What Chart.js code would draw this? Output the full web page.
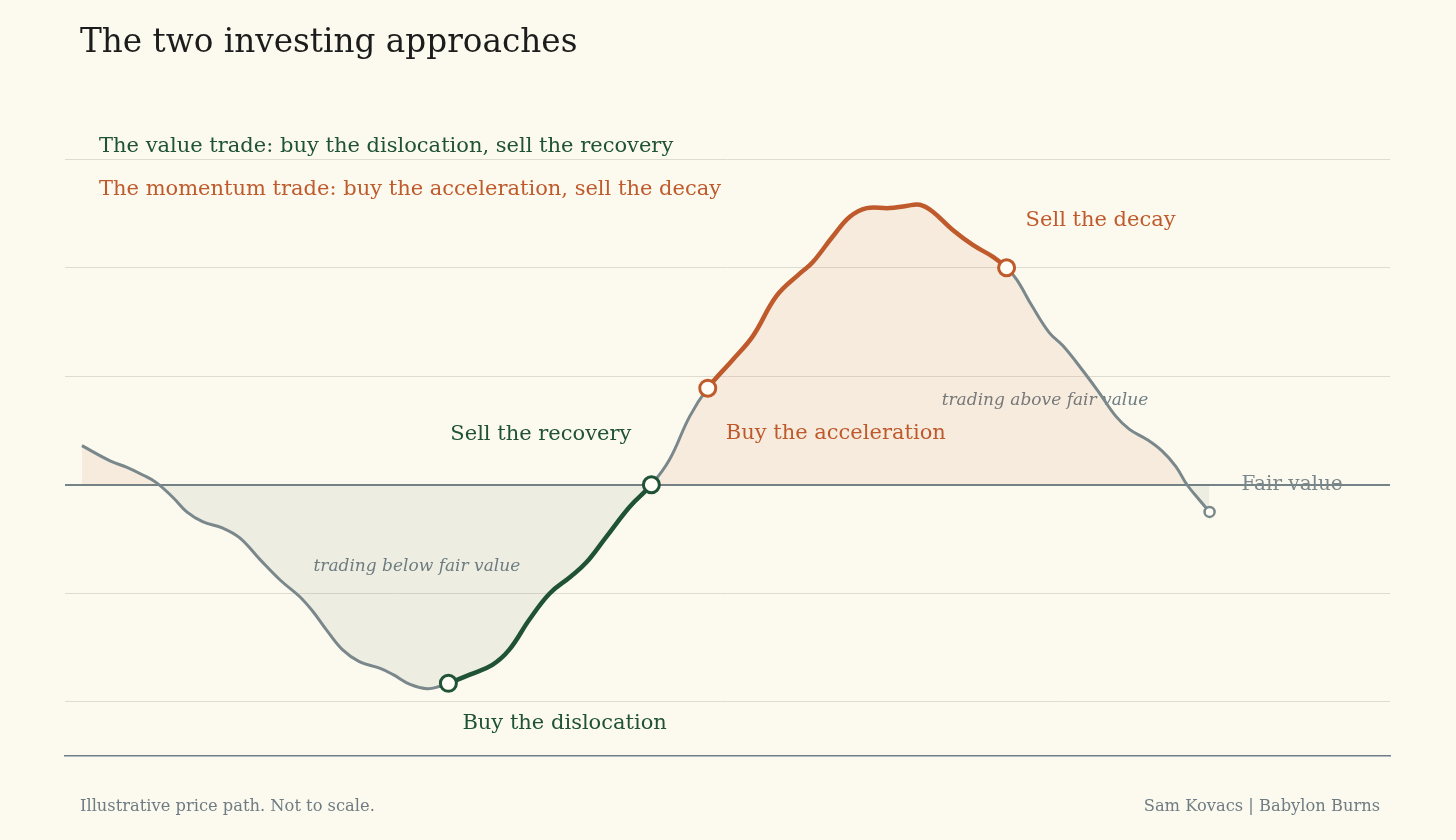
<!DOCTYPE html>
<html>
<head>
<meta charset="utf-8">
<script src="https://cdn.jsdelivr.net/npm/chart.js@4.4.1/dist/chart.umd.min.js"></script>
<style>
  html, body { margin: 0; padding: 0; background: #FCFAEE; }
  #wrap { width: 1456px; height: 840px; position: relative; }
</style>
</head>
<body>
<div id="wrap"><canvas id="pathChart"></canvas></div>
<script>
// price path, fair value = 0
const pathX = [0, 2.5, 4, 5.4, 6.6, 8.1, 9.3, 10.7, 12.5, 14, 15.8, 17.6, 19.3, 20.5, 21.7, 23.1, 24.6, 26.4, 27.6, 29.1,
  30.6, 31.7, 32.5, 34.4, 36.4, 37.9, 39.7, 41.5, 43.3, 44.7, 46.5, 48.6, 50.5, 52.1, 53.9, 55.5, 57.7, 59.5, 61.6, 63.7,
  64.8, 66.6, 68.1, 69.6, 71.6, 73.1, 74.3, 75.4, 77.2, 79, 80.8, 82, 82.9, 84.3, 85.8, 87, 88.7, 90.2, 91.7, 92.9,
  94.4, 95.8, 97, 98, 99.1, 100];
const pathY = [0.36, 0.22, 0.16, 0.09, 0.02, -0.12, -0.25, -0.34, -0.40, -0.49, -0.69, -0.88, -1.03, -1.17, -1.34, -1.52, -1.63, -1.69, -1.75, -1.84,
  -1.88, -1.86, -1.83, -1.75, -1.66, -1.52, -1.24, -1.0, -0.85, -0.72, -0.48, -0.2, 0, 0.23, 0.63, 0.89, 1.15, 1.37, 1.74, 1.95,
  2.05, 2.29, 2.47, 2.55, 2.55, 2.57, 2.58, 2.52, 2.35, 2.21, 2.1, 2.0, 1.89, 1.64, 1.4, 1.28, 1.06, 0.85, 0.63, 0.51,
  0.42, 0.31, 0.17, 0, -0.14, -0.25];

const valueTrade = [32.5, 50.5];     // buy the dislocation -> sell the recovery
const momentumTrade = [55.5, 82];    // buy the acceleration -> sell the decay
const pathEnd = 100;
const gridTicks = [-2, -1, 0, 1, 2, 3];

const GREEN = '#1F5236';
const ORANGE = '#BF5A2C';
const GRAY = '#7A878B';
const SERIF = '"DejaVu Serif", serif';

const inside = (a, b, r) => a >= r[0] && b <= r[1];
const yAt = x => pathY[pathX.indexOf(x)];
const points = pathX.map((x, i) => ({ x: x, y: pathY[i] }));

// labels anchored to the path's marked points, offsets in px
const notes = [
  { text: 'Buy the dislocation', x: valueTrade[0], y: yAt(valueTrade[0]), dx: 14, dy: 40, align: 'left', color: GREEN, size: 21 },
  { text: 'Sell the recovery', x: valueTrade[1], y: yAt(valueTrade[1]), dx: -20, dy: -50, align: 'right', color: GREEN, size: 21 },
  { text: 'Buy the acceleration', x: momentumTrade[0], y: yAt(momentumTrade[0]), dx: 18, dy: 45, align: 'left', color: ORANGE, size: 21 },
  { text: 'Sell the decay', x: momentumTrade[1], y: yAt(momentumTrade[1]), dx: 19, dy: -47, align: 'left', color: ORANGE, size: 21 },
  { text: 'Fair value', x: pathEnd, y: 0, dx: 32, dy: 0, align: 'left', color: GRAY, size: 20 }
];
const zoneNotes = [
  { text: 'trading below fair value', x: 29.7, y: -0.75 },
  { text: 'trading above fair value', x: 85.4, y: 0.78 }
];

const textPlugin = {
  id: 'texts',
  beforeDatasetsDraw(chart) {
    const { ctx, scales: { x, y } } = chart;
    ctx.save();
    ctx.textBaseline = 'middle';
    ctx.font = 'italic 17px ' + SERIF;
    ctx.fillStyle = '#6F7C82';
    ctx.textAlign = 'center';
    zoneNotes.forEach(n => ctx.fillText(n.text, x.getPixelForValue(n.x), y.getPixelForValue(n.y)));
    notes.forEach(n => {
      ctx.font = n.size + 'px ' + SERIF;
      ctx.fillStyle = n.color;
      ctx.textAlign = n.align;
      ctx.fillText(n.text, x.getPixelForValue(n.x) + n.dx, y.getPixelForValue(n.y) + n.dy);
    });
    ctx.restore();
  },
  afterDraw(chart) {
    const { ctx } = chart;
    ctx.save();
    ctx.textBaseline = 'middle';
    ctx.textAlign = 'left';
    ctx.fillStyle = '#1C1C1C';
    ctx.font = '32.7px ' + SERIF;
    ctx.fillText('The two investing approaches', 80, 44);
    ctx.font = '21px ' + SERIF;
    ctx.fillStyle = GREEN;
    ctx.fillText('The value trade: buy the dislocation, sell the recovery', 99, 147);
    ctx.fillStyle = ORANGE;
    ctx.fillText('The momentum trade: buy the acceleration, sell the decay', 99, 190);
    ctx.fillStyle = '#6F7C84';
    ctx.font = '16.3px ' + SERIF;
    ctx.fillText('Illustrative price path. Not to scale.', 80, 807);
    ctx.textAlign = 'right';
    ctx.fillText('Sam Kovacs | Babylon Burns', 1380, 807);
    ctx.restore();
  }
};

const markers = [valueTrade[0], valueTrade[1], momentumTrade[0], momentumTrade[1], pathEnd];
const markerColor = v => (v === pathEnd ? GRAY : inside(v, v, valueTrade) ? GREEN : ORANGE);

new Chart(document.getElementById('pathChart'), {
  type: 'line',
  data: {
    datasets: [{
      // price path with the two trades highlighted
      data: points,
      borderColor: GRAY,
      borderWidth: 3,
      tension: 0.4,
      fill: false,
      segment: {
        borderColor: c => inside(c.p0.parsed.x, c.p1.parsed.x, valueTrade) ? GREEN
          : inside(c.p0.parsed.x, c.p1.parsed.x, momentumTrade) ? ORANGE : GRAY,
        borderWidth: c => (inside(c.p0.parsed.x, c.p1.parsed.x, valueTrade) ||
          inside(c.p0.parsed.x, c.p1.parsed.x, momentumTrade)) ? 4.5 : 3
      },
      pointRadius: c => { const v = c.raw && c.raw.x; return !markers.includes(v) ? 0 : v === pathEnd ? 5 : 8; },
      pointBorderWidth: c => (c.raw && c.raw.x === pathEnd ? 2.5 : 3),
      pointBackgroundColor: '#FFFDF6',
      pointBorderColor: c => markerColor(c.raw ? c.raw.x : 0)
    }, {
      // shading above / below fair value
      data: points,
      borderWidth: 0,
      pointRadius: 0,
      tension: 0.4,
      fill: { target: { value: 0 }, above: 'rgba(192, 88, 43, 0.09)', below: 'rgba(110, 125, 120, 0.1)' }
    }]
  },
  options: {
    responsive: true,
    maintainAspectRatio: false,
    animation: false,
    events: [],
    layout: { padding: { left: 65, right: 66, top: 105, bottom: 84 } },
    plugins: { legend: { display: false }, tooltip: { enabled: false } },
    scales: {
      x: {
        type: 'linear', min: -1.5, max: 116,
        ticks: { display: false },
        grid: { display: false, drawTicks: false },
        border: { display: true, color: '#6E7D8A', width: 1.5 }
      },
      y: {
        min: -2.5, max: 3.5,
        afterBuildTicks: axis => { axis.ticks = gridTicks.map(v => ({ value: v })); },
        ticks: { display: false },
        grid: {
          drawTicks: false,
          color: c => (c.tick && c.tick.value === 0 ? '#748388' : '#DEDCD0'),
          lineWidth: c => (c.tick && c.tick.value === 0 ? 2 : 1)
        },
        border: { display: false }
      }
    }
  },
  plugins: [textPlugin]
});
</script>
</body>
</html>
